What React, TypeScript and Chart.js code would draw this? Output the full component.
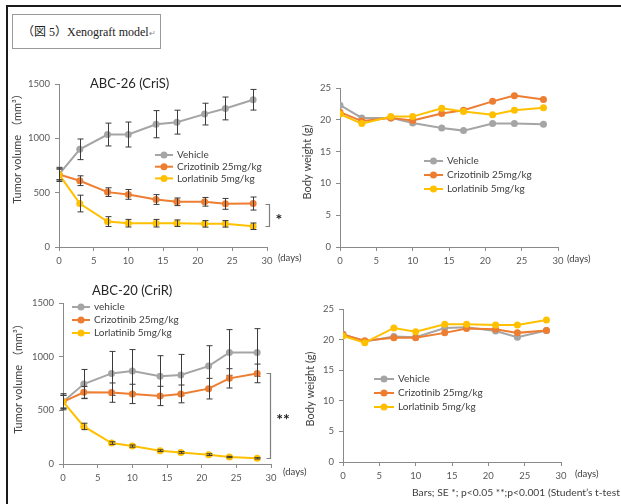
import React, { useEffect, useRef } from "react";
import { Chart, registerables } from "chart.js";

Chart.register(...registerables);

// ---------- data ----------
const days = [0, 3, 7, 10, 14, 17, 21, 24, 28];
const seriesLabels = ["Vehicle", "Crizotinib 25mg/kg", "Lorlatinib 5mg/kg"];
const seriesLabelsCriR = ["vehicle", "Crizotinib 25mg/kg", "Lorlatinib 5mg/kg"];
const seriesColors = ["#A5A5A5", "#ED7D31", "#FFC000"];

// ABC-26 (CriS) tumor volume (mm3) and SE
const criSVehicle = [668, 899, 1035, 1035, 1130, 1149, 1223, 1275, 1355];
const criSVehicleSE = [65, 95, 105, 115, 125, 110, 100, 105, 95];
const criSCrizotinib = [668, 610, 505, 484, 437, 416, 416, 397, 400];
const criSCrizotinibSE = [50, 45, 40, 45, 45, 35, 40, 50, 60];
const criSLorlatinib = [668, 400, 234, 219, 219, 219, 213, 213, 191];
const criSLorlatinibSE = [50, 77, 45, 35, 35, 30, 30, 30, 30];

// ABC-26 (CriS) body weight (g)
const criSBwVehicle = [22.3, 20.3, 20.3, 19.5, 18.7, 18.3, 19.4, 19.4, 19.3];
const criSBwCrizotinib = [21.2, 19.8, 20.3, 19.9, 21.0, 21.5, 22.9, 23.8, 23.2];
const criSBwLorlatinib = [20.9, 19.4, 20.5, 20.5, 21.8, 21.3, 20.8, 21.5, 21.9];

// ABC-20 (CriR) tumor volume (mm3) and SE
const criRVehicle = [580, 745, 844, 866, 817, 829, 912, 1039, 1039];
const criRVehicleSE = [75, 136, 205, 200, 192, 192, 190, 213, 222];
const criRCrizotinib = [580, 668, 665, 653, 634, 653, 702, 798, 844];
const criRCrizotinibSE = [60, 55, 90, 90, 90, 83, 96, 90, 87];
const criRLorlatinib = [580, 350, 195, 167, 124, 108, 87, 65, 53];
const criRLorlatinibSE = [60, 30, 12, 10, 8, 8, 8, 6, 6];

// ABC-20 (CriR) body weight (g)
const criRBwVehicle = [20.9, 19.7, 20.5, 20.4, 21.9, 22.0, 21.4, 20.4, 21.5];
const criRBwCrizotinib = [20.8, 19.8, 20.3, 20.3, 21.1, 21.8, 21.7, 21.1, 21.5];
const criRBwLorlatinib = [20.6, 19.5, 21.9, 21.3, 22.5, 22.5, 22.4, 22.4, 23.2];

const xMax = 30;
const xStep = 5;

// ---------- layout / style ----------
const FONT = "Lato, 'Open Sans', 'Noto Sans CJK JP', sans-serif";
const AXIS_COLOR = "#8a8a8a";
const TICK_COLOR = "#595959";
const TEXT_COLOR = "#404040";

const specs = [
  {
    id: "tl",
    rect: { x: 8, y: 62, w: 302, h: 218 },
    area: { l: 59, t: 84, r: 267, b: 247 },
    yMax: 1500, yStep: 500,
    labels: seriesLabels,
    series: [criSVehicle, criSCrizotinib, criSLorlatinib],
    errors: [criSVehicleSE, criSCrizotinibSE, criSLorlatinibSE],
    title: { text: "ABC-26 (CriS)", x: 90, y: 84 },
    yTitle: { text: "Tumor volume （mm³）", x: 17, y: 146 },
    legend: { x: 155, y: 155, gap: 11.7, len: 18 },
    daysLabel: { x: 278, y: 258 },
    bracket: { dx: 2, text: "*", starX: 279 },
  },
  {
    id: "tr",
    rect: { x: 300, y: 62, w: 321, h: 218 },
    area: { l: 340, t: 88, r: 558, b: 247 },
    yMax: 25, yStep: 5,
    labels: seriesLabels,
    series: [criSBwVehicle, criSBwCrizotinib, criSBwLorlatinib],
    errors: null,
    title: null,
    yTitle: { text: "Body weight (g)", x: 307, y: 162 },
    legend: { x: 424, y: 161, gap: 14, len: 19 },
    daysLabel: { x: 567, y: 259 },
    bracket: null,
  },
  {
    id: "bl",
    rect: { x: 8, y: 280, w: 302, h: 220 },
    area: { l: 63, t: 303, r: 271, b: 464 },
    yMax: 1500, yStep: 500,
    labels: seriesLabelsCriR,
    series: [criRVehicle, criRCrizotinib, criRLorlatinib],
    errors: [criRVehicleSE, criRCrizotinibSE, criRLorlatinibSE],
    title: { text: "ABC-20 (CriR)", x: 92, y: 291 },
    yTitle: { text: "Tumor volume （mm³）", x: 18, y: 376 },
    legend: { x: 72, y: 307, gap: 13, len: 18 },
    daysLabel: { x: 283, y: 472 },
    bracket: { dx: -1, text: "**", starX: 283 },
  },
  {
    id: "br",
    rect: { x: 300, y: 280, w: 321, h: 220 },
    area: { l: 343, t: 309, r: 561, b: 462 },
    yMax: 25, yStep: 5,
    labels: seriesLabels,
    series: [criRBwVehicle, criRBwCrizotinib, criRBwLorlatinib],
    errors: null,
    title: null,
    yTitle: { text: "Body weight (g)", x: 310, y: 389 },
    legend: { x: 374, y: 379, gap: 14, len: 20 },
    daysLabel: { x: 575, y: 474 },
    bracket: null,
  },
];

function makeConfig(spec: any) {
  const Wy = 30;
  const Hx = 20;
  const { rect, area } = spec;
  const ox = rect.x;
  const oy = rect.y;
  const padding = {
    left: area.l - rect.x - Wy,
    top: area.t - rect.y,
    right: rect.x + rect.w - area.r,
    bottom: rect.y + rect.h - area.b - Hx,
  };

  const datasets = spec.series.map((vals: number[], i: number) => ({
    label: spec.labels[i],
    data: days.map((d, k) => ({ x: d, y: vals[k] })),
    borderColor: seriesColors[i],
    backgroundColor: seriesColors[i],
    pointBackgroundColor: seriesColors[i],
    pointBorderColor: seriesColors[i],
    pointRadius: 3.5,
    pointBorderWidth: 0,
    borderWidth: 2,
    tension: 0,
    order: spec.series.length - i,
  }));

  const plugin = {
    id: "overlay_" + spec.id,
    afterDatasetDraw(chart: any, args: any) {
      if (!spec.errors) return;
      const i = args.index;
      const vals = spec.series[i];
      const errs = spec.errors[i];
      const xs = chart.scales.x;
      const ys = chart.scales.y;
      const ctx = chart.ctx;
      ctx.save();
      ctx.strokeStyle = "#3a3a3a";
      ctx.lineWidth = 1;
      days.forEach((d, k) => {
        const x = Math.round(xs.getPixelForValue(d)) + 0.5;
        const y1 = ys.getPixelForValue(vals[k] + errs[k]);
        const y2 = ys.getPixelForValue(Math.max(0, vals[k] - errs[k]));
        ctx.beginPath();
        ctx.moveTo(x, y1);
        ctx.lineTo(x, y2);
        ctx.moveTo(x - 3, y1);
        ctx.lineTo(x + 3, y1);
        ctx.moveTo(x - 3, y2);
        ctx.lineTo(x + 3, y2);
        ctx.stroke();
      });
      ctx.restore();
    },
    afterDraw(chart: any) {
      const ctx = chart.ctx;
      const xs = chart.scales.x;
      const ys = chart.scales.y;
      ctx.save();
      // chart title
      if (spec.title) {
        ctx.font = `13px ${FONT}`;
        ctx.fillStyle = "#262626";
        ctx.textAlign = "left";
        ctx.textBaseline = "middle";
        ctx.fillText(spec.title.text, spec.title.x - ox, spec.title.y - oy);
      }
      // y-axis title
      ctx.save();
      ctx.translate(spec.yTitle.x - ox, spec.yTitle.y - oy);
      ctx.rotate(-Math.PI / 2);
      ctx.font = `11px ${FONT}`;
      ctx.fillStyle = TEXT_COLOR;
      ctx.textAlign = "center";
      ctx.textBaseline = "middle";
      ctx.fillText(spec.yTitle.text, 0, 0);
      ctx.restore();
      // (days)
      ctx.font = `9.5px ${FONT}`;
      ctx.fillStyle = TEXT_COLOR;
      ctx.textAlign = "left";
      ctx.textBaseline = "middle";
      ctx.fillText("(days)", spec.daysLabel.x - ox, spec.daysLabel.y - oy);
      // legend
      spec.labels.forEach((lab: string, i: number) => {
        const y = spec.legend.y - oy + i * spec.legend.gap;
        const x0 = spec.legend.x - ox;
        const len = spec.legend.len;
        ctx.strokeStyle = seriesColors[i];
        ctx.lineWidth = 2;
        ctx.beginPath();
        ctx.moveTo(x0, y);
        ctx.lineTo(x0 + len, y);
        ctx.stroke();
        ctx.fillStyle = seriesColors[i];
        ctx.beginPath();
        ctx.arc(x0 + len / 2, y, 3.5, 0, Math.PI * 2);
        ctx.fill();
        ctx.fillStyle = TEXT_COLOR;
        ctx.font = `10px ${FONT}`;
        ctx.textAlign = "left";
        ctx.textBaseline = "middle";
        ctx.fillText(lab, x0 + len + 4, y);
      });
      // significance bracket
      if (spec.bracket) {
        const n = days.length - 1;
        const yTop = Math.round(ys.getPixelForValue(spec.series[1][n])) + 0.5;
        const yBot = Math.round(ys.getPixelForValue(spec.series[2][n])) + 0.5;
        const bx = Math.round(xs.right + spec.bracket.dx) + 0.5;
        ctx.strokeStyle = "#7f7f7f";
        ctx.lineWidth = 1.2;
        ctx.beginPath();
        ctx.moveTo(bx - 4, yTop);
        ctx.lineTo(bx, yTop);
        ctx.lineTo(bx, yBot);
        ctx.lineTo(bx - 4, yBot);
        ctx.stroke();
        ctx.fillStyle = "#222";
        ctx.font = `bold 16px ${FONT}`;
        ctx.textAlign = "center";
        ctx.textBaseline = "middle";
        ctx.fillText(spec.bracket.text, spec.bracket.starX - ox, (yTop + yBot) / 2 + 4);
      }
      ctx.restore();
    },
  };

  const tickFont = { family: FONT, size: 9.5 };
  const plain = (v: any) => String(v);

  return {
    type: "line",
    data: { datasets },
    options: {
      animation: false,
      responsive: false,
      maintainAspectRatio: false,
      layout: { padding },
      plugins: { legend: { display: false }, tooltip: { enabled: false } },
      scales: {
        x: {
          type: "linear",
          min: 0,
          max: xMax,
          ticks: { stepSize: xStep, font: tickFont, color: TICK_COLOR, padding: 4, maxRotation: 0, callback: plain },
          grid: { display: true, drawOnChartArea: false, drawTicks: true, tickLength: 4, color: AXIS_COLOR },
          border: { display: true, color: AXIS_COLOR, width: 1 },
          afterFit: (s: any) => { s.height = Hx; },
        },
        y: {
          type: "linear",
          min: 0,
          max: spec.yMax,
          ticks: { stepSize: spec.yStep, font: tickFont, color: TICK_COLOR, padding: 5, callback: plain },
          grid: { display: true, drawOnChartArea: false, drawTicks: true, tickLength: 4, color: AXIS_COLOR },
          border: { display: true, color: AXIS_COLOR, width: 1 },
          afterFit: (s: any) => { s.width = Wy; },
        },
      },
    },
    plugins: [plugin],
  };
}

function ChartCanvas({ spec }: { spec: any }) {
  const ref = useRef<HTMLCanvasElement | null>(null);
  useEffect(() => {
    const chart = new Chart(ref.current as HTMLCanvasElement, makeConfig(spec) as any);
    return () => chart.destroy();
  }, []);
  return (
    <canvas
      ref={ref}
      width={spec.rect.w}
      height={spec.rect.h}
      style={{ position: "absolute", left: spec.rect.x, top: spec.rect.y, width: spec.rect.w, height: spec.rect.h }}
    />
  );
}

export default function App() {
  return (
    <div style={{ position: "fixed", left: 0, top: 0, width: 621, height: 504, overflow: "hidden", background: "#fff" }}>
      <div style={{ position: "absolute", left: 6, top: 5, width: 700, height: 600, borderTop: "2px solid #1a1a1a", borderLeft: "2px solid #1a1a1a" }} />
      <div style={{ position: "absolute", left: 12, top: 14, width: 149, height: 35, boxSizing: "border-box", border: "1px solid #9a9a9a" }}>
        <span style={{ position: "absolute", left: 9, top: 10, fontFamily: "'Liberation Serif', 'Noto Sans CJK JP', serif", fontSize: 12, lineHeight: "14px", color: "#222", whiteSpace: "nowrap" }}>
          （図 5）Xenograft model<span style={{ fontSize: 8, color: "#888" }}>↵</span>
        </span>
      </div>
      {specs.map((s) => (
        <ChartCanvas key={s.id} spec={s} />
      ))}
      <div style={{ position: "absolute", left: 412, top: 486, fontFamily: FONT, fontSize: 10.3, lineHeight: "13px", color: TEXT_COLOR, whiteSpace: "nowrap" }}>
        Bars; SE *; p&lt;0.05 **;p&lt;0.001 (Student’s t-test
      </div>
    </div>
  );
}
